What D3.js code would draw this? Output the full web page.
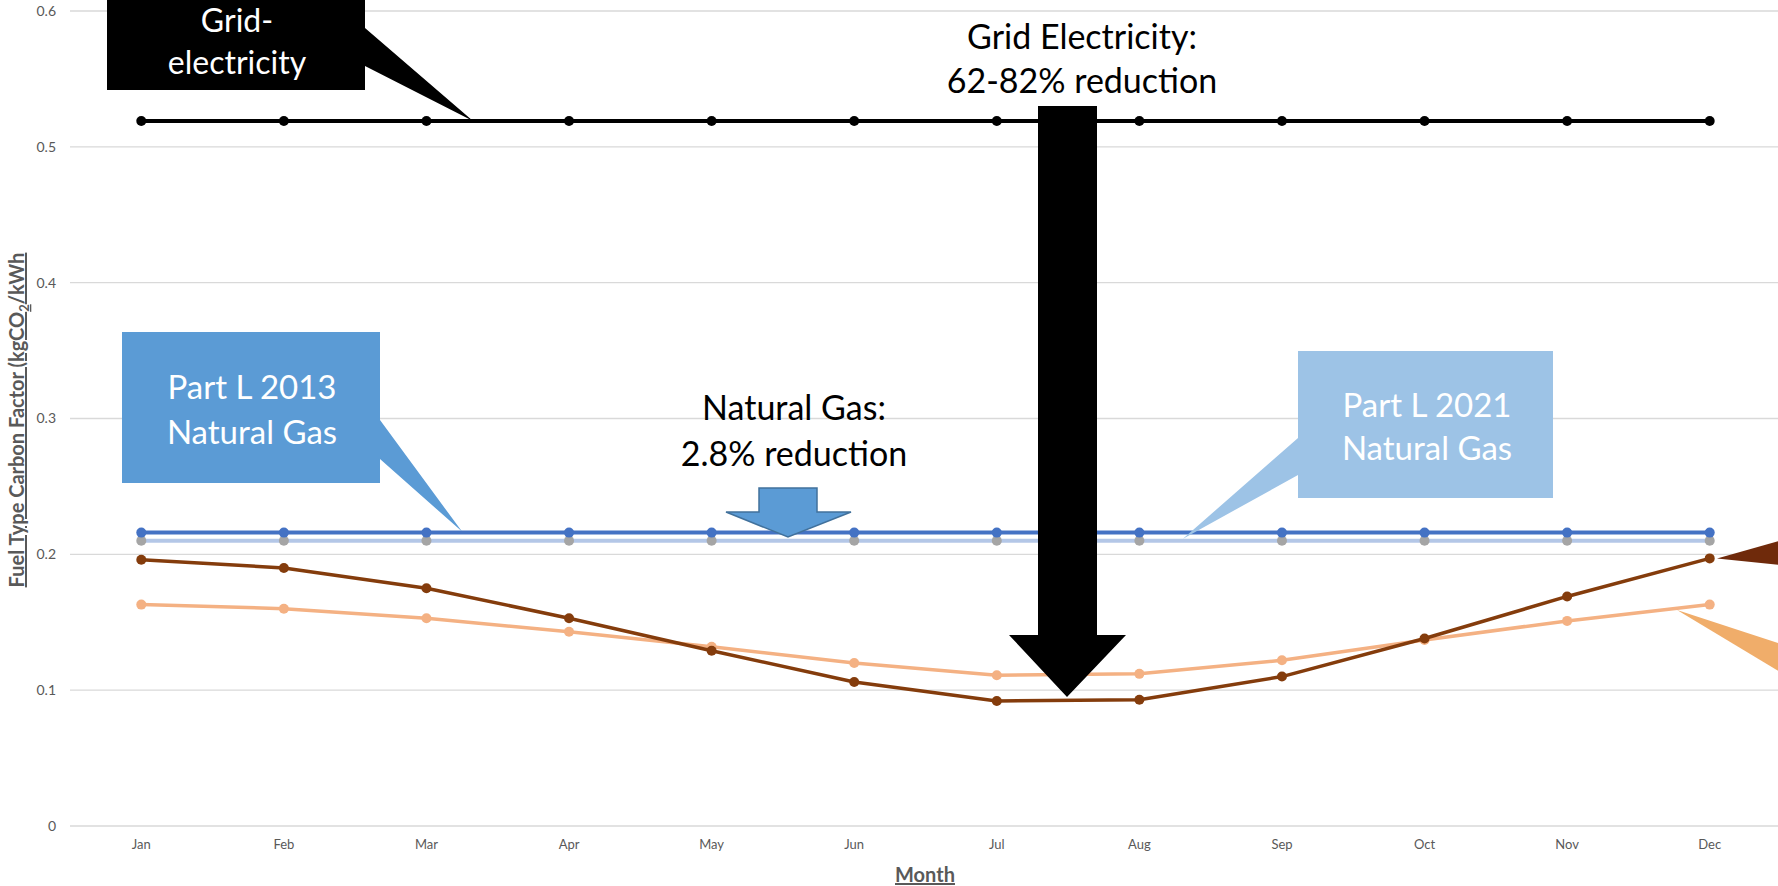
<!DOCTYPE html>
<html>
<head>
<meta charset="utf-8">
<script src="https://cdnjs.cloudflare.com/ajax/libs/d3/7.8.5/d3.min.js"></script>
<style>
  html, body { margin: 0; padding: 0; background: #fff; }
  svg { display: block; font-family: Lato, "Open Sans", sans-serif; }
</style>
</head>
<body>
<svg id="chart" width="1778" height="886"></svg>
<script>
// ---- Data ----
const months = ["Jan","Feb","Mar","Apr","May","Jun","Jul","Aug","Sep","Oct","Nov","Dec"];
const yTicks = [0, 0.1, 0.2, 0.3, 0.4, 0.5, 0.6];
const gridElectricity = [0.519,0.519,0.519,0.519,0.519,0.519,0.519,0.519,0.519,0.519,0.519,0.519];
const partL2013Gas = [0.216,0.216,0.216,0.216,0.216,0.216,0.216,0.216,0.216,0.216,0.216,0.216];
const partL2021Gas = [0.210,0.210,0.210,0.210,0.210,0.210,0.210,0.210,0.210,0.210,0.210,0.210];
const monthlyElecA = [0.196,0.190,0.175,0.153,0.129,0.106,0.092,0.093,0.110,0.138,0.169,0.197];
const monthlyElecB = [0.163,0.160,0.153,0.143,0.132,0.120,0.111,0.112,0.122,0.137,0.151,0.163];

const series = [
  { name: "Part L 2021 Natural Gas", values: partL2021Gas, line: "#B4C7E7", marker: "#A5A5A5", width: 4, r: 5 },
  { name: "Part L 2013 Natural Gas", values: partL2013Gas, line: "#4472C4", marker: "#4472C4", width: 4, r: 5 },
  { name: "Monthly B", values: monthlyElecB, line: "#F4B183", marker: "#F4B183", width: 3.5, r: 5 },
  { name: "Monthly A", values: monthlyElecA, line: "#843C0C", marker: "#843C0C", width: 3.5, r: 5 },
  { name: "Grid-electricity", values: gridElectricity, line: "#000000", marker: "#000000", width: 4, r: 5 }
];

// ---- Layout ----
const svg = d3.select("#chart");
const x = d3.scaleBand().domain(months).range([70, 1781]).padding(0);
const y = d3.scaleLinear().domain([0, 0.6]).range([826, 11]);
const cx = m => x(m) + x.bandwidth() / 2;

// gridlines
svg.append("g").selectAll("line").data(yTicks).join("line")
  .attr("x1", 70).attr("x2", 1778)
  .attr("y1", d => y(d)).attr("y2", d => y(d))
  .attr("stroke", "#D9D9D9").attr("stroke-width", 1.3);

// y tick labels
svg.append("g").selectAll("text").data(yTicks).join("text")
  .attr("x", 56).attr("y", d => y(d)).attr("dy", "0.35em")
  .attr("text-anchor", "end").attr("font-size", 14).attr("fill", "#595959")
  .text(d => d3.format("")(d));

// x axis labels
const xAxis = d3.axisBottom(x).tickSize(0).tickPadding(14);
const gx = svg.append("g").attr("transform", `translate(0,${y(0)})`).call(xAxis);
gx.select(".domain").remove();
gx.selectAll("text").attr("font-size", 13).attr("fill", "#595959").attr("font-family", "Lato, sans-serif");

// axis titles
svg.append("text").attr("x", 925).attr("y", 882)
  .attr("text-anchor", "middle").attr("font-size", 20).attr("font-weight", "bold")
  .attr("fill", "#595959").attr("text-decoration", "underline").text("Month");

const yt = svg.append("text")
  .attr("transform", "translate(24,420) rotate(-90)")
  .attr("text-anchor", "middle").attr("font-size", 20).attr("font-weight", "bold")
  .attr("fill", "#595959").attr("text-decoration", "underline");
yt.append("tspan").text("Fuel Type Carbon Factor (kgCO");
yt.append("tspan").attr("font-size", 13).attr("dy", 5).text("2");
yt.append("tspan").attr("dy", -5).text("/kWh");

// series lines + markers
const line = d3.line().x((d, i) => cx(months[i])).y(d => y(d));
series.forEach(s => {
  const g = svg.append("g");
  g.append("path").attr("d", line(s.values)).attr("fill", "none")
    .attr("stroke", s.line).attr("stroke-width", s.width).attr("stroke-linejoin", "round");
  g.selectAll("circle").data(s.values).join("circle")
    .attr("cx", (d, i) => cx(months[i])).attr("cy", d => y(d)).attr("r", s.r)
    .attr("fill", s.marker);
});

// ---- Annotations ----
const ann = svg.append("g");
const txt = (parent, xx, yy, lines, color, size, gap) => {
  lines.forEach((t, i) => parent.append("text")
    .attr("x", xx).attr("y", yy + i * gap).attr("dy", "0.35em")
    .attr("text-anchor", "middle").attr("font-size", size).attr("fill", color).text(t));
};

// Grid-electricity callout
ann.append("path").attr("d", "M107,-2 L365,-2 L365,28 L473," + y(0.519) + " L365,66 L365,90 L107,90 Z").attr("fill", "#000");
txt(ann, 237, 21, ["Grid-", "electricity"], "#fff", 32, 42);

// Part L 2013 callout
ann.append("path").attr("d", "M122,332 L380,332 L380,420 L462," + (y(0.216) - 1) + " L380,459 L380,483 L122,483 Z").attr("fill", "#5B9BD5");
txt(ann, 252, 387, ["Part L 2013", "Natural Gas"], "#fff", 33, 45);

// Part L 2021 callout
ann.append("path").attr("d", "M1298,351 L1553,351 L1553,498 L1298,498 L1298,475 L1183," + (y(0.21) - 2) + " L1298,438 Z").attr("fill", "#9DC3E6");
txt(ann, 1427, 405, ["Part L 2021", "Natural Gas"], "#fff", 33, 43);

// Natural gas text + blue arrow
txt(ann, 794, 408, ["Natural Gas:", "2.8% reduction"], "#000", 34, 46);
ann.append("path").attr("d", "M759,488 L817,488 L817,512 L851,512 L788,537 L726,512 L759,512 Z")
  .attr("fill", "#5B9BD5").attr("stroke", "#41719C").attr("stroke-width", 1.5);

// Grid electricity reduction text + black arrow
txt(ann, 1082, 37, ["Grid Electricity:", "62-82% reduction"], "#000", 34, 44);
ann.append("path").attr("d", "M1038,106 L1097,106 L1097,635 L1126,635 L1067,697 L1009,635 L1038,635 Z").attr("fill", "#000");

// right-edge pointers
ann.append("path").attr("d", "M1717," + y(0.197) + " L1790,538 L1790,566 Z").attr("fill", "#6F2A0B");
ann.append("path").attr("d", "M1677,610 L1790,647 L1790,678 Z").attr("fill", "#F0AD6A");
</script>
</body>
</html>
